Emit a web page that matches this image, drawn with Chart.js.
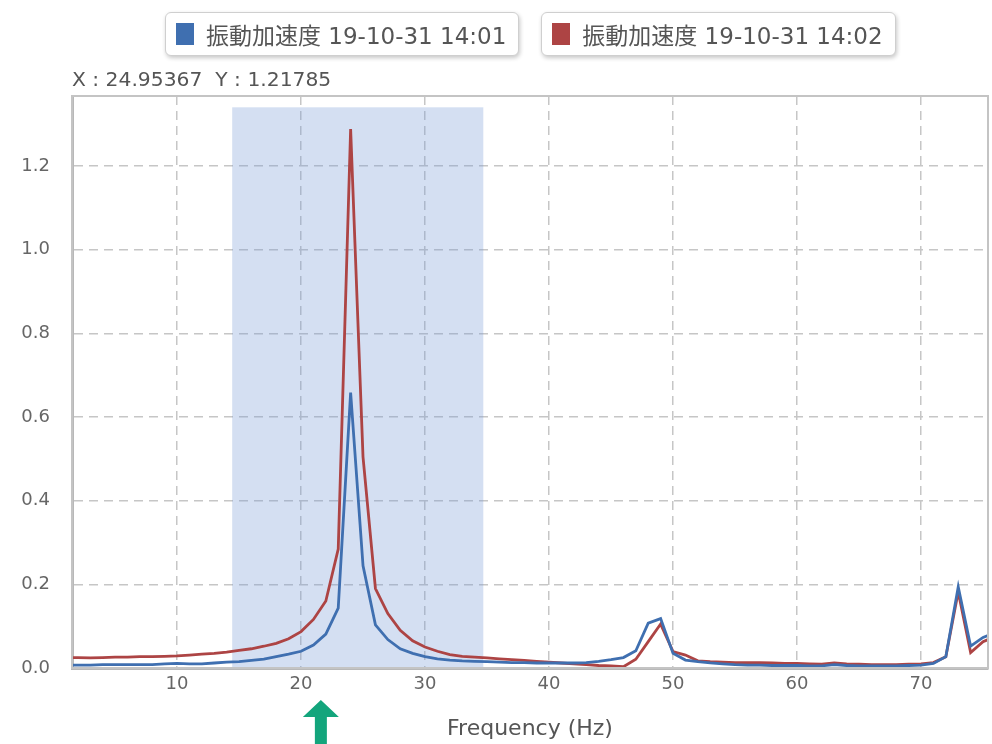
<!DOCTYPE html>
<html>
<head>
<meta charset="utf-8">
<script src="https://cdn.jsdelivr.net/npm/chart.js@4.4.1/dist/chart.umd.min.js"></script>
<style>
  html, body { margin: 0; padding: 0; background: #fff; }
  #wrap { position: relative; width: 992px; height: 744px; }
  #legend { position: absolute; top: 12px; left: 165px; display: flex; gap: 22px; }
  .lg-item {
    display: flex; align-items: center; height: 42px; padding: 0 12px 0 10px;
    border: 1px solid #cfcfcf; border-radius: 6px; background: #fff;
    box-shadow: 1px 2px 4px rgba(0,0,0,0.22);
    font: 23px "DejaVu Sans", "Noto Sans CJK JP", sans-serif; color: #555;
    white-space: nowrap;
  }
  .lg-sw { width: 18px; height: 22px; margin-right: 12px; }
  #cursor {
    position: absolute; left: 72px; top: 67px;
    font: 20.3px "DejaVu Sans", sans-serif; color: #555; white-space: pre;
  }
</style>
</head>
<body>
<div id="wrap">
  <canvas id="fft" width="992" height="744"></canvas>
  <div id="legend"></div>
  <div id="cursor">X : 24.95367  Y : 1.21785</div>
</div>
<script>
// ---------------- data ----------------
const freqs = [
  1, 2, 3, 4, 5, 6, 7, 8, 9, 10, 11, 12, 13, 14, 15, 16, 17, 18, 19, 20,
  21, 22, 23, 24, 25, 26, 27, 28, 29, 30, 31, 32, 33, 34, 35, 36, 37, 38, 39, 40,
  41, 42, 43, 44, 45, 46, 47, 48, 49, 50, 51, 52, 53, 54, 55, 56, 57, 58, 59, 60,
  61, 62, 63, 64, 65, 66, 67, 68, 69, 70, 71, 72, 73, 74, 75, 76
];

const accel1401 = [
  0.007, 0.007, 0.007, 0.008, 0.008, 0.008, 0.008, 0.008, 0.010, 0.011,
  0.010, 0.010, 0.012, 0.014, 0.015, 0.018, 0.021, 0.027, 0.033, 0.040,
  0.055, 0.081, 0.143, 0.658, 0.244, 0.103, 0.068, 0.046, 0.035, 0.027,
  0.022, 0.019, 0.017, 0.016, 0.015, 0.014, 0.013, 0.013, 0.012, 0.012,
  0.012, 0.012, 0.013, 0.016, 0.020, 0.025, 0.041, 0.107, 0.118, 0.035,
  0.019, 0.015, 0.012, 0.010, 0.008, 0.007, 0.007, 0.006, 0.006, 0.006,
  0.005, 0.005, 0.008, 0.006, 0.005, 0.005, 0.005, 0.005, 0.006, 0.007,
  0.011, 0.027, 0.194, 0.052, 0.073, 0.085
];

const accel1402 = [
  0.025, 0.025, 0.024, 0.025, 0.026, 0.026, 0.027, 0.027, 0.028, 0.029,
  0.031, 0.033, 0.035, 0.038, 0.042, 0.046, 0.052, 0.059, 0.070, 0.087,
  0.116, 0.160, 0.284, 1.288, 0.504, 0.190, 0.130, 0.090, 0.065, 0.050,
  0.040, 0.032, 0.028, 0.026, 0.024, 0.022, 0.020, 0.018, 0.016, 0.014,
  0.012, 0.010, 0.008, 0.006, 0.005, 0.003, 0.021, 0.063, 0.105, 0.039,
  0.031, 0.017, 0.015, 0.014, 0.013, 0.013, 0.013, 0.012, 0.011, 0.011,
  0.010, 0.009, 0.012, 0.010, 0.009, 0.008, 0.008, 0.008, 0.009, 0.010,
  0.013, 0.027, 0.182, 0.037, 0.063, 0.075
];

const seriesLabels = ['振動加速度 19-10-31 14:01', '振動加速度 19-10-31 14:02'];
const xTicks = [10, 20, 30, 40, 50, 60, 70];
const yTicks = [0, 0.2, 0.4, 0.6, 0.8, 1.0, 1.2];
const xRange = [1.53, 75.4];
const yRange = [0, 1.367];
const bandX = [14.45, 34.7];   // highlighted frequency window
const bandTop = 1.34;
const arrowAt = 21.6;          // marker under the axis

const FONT = '"DejaVu Sans", "Noto Sans CJK JP", sans-serif';

// ---------------- plugins ----------------
const bandPlugin = {
  id: 'band',
  beforeDatasetsDraw(chart) {
    const { ctx, scales: { x, y } } = chart;
    const x0 = x.getPixelForValue(bandX[0]);
    const x1 = x.getPixelForValue(bandX[1]);
    const y0 = y.getPixelForValue(bandTop);
    const y1 = y.getPixelForValue(0);
    ctx.save();
    ctx.fillStyle = 'rgba(120, 155, 215, 0.32)';
    ctx.fillRect(x0, y0, x1 - x0, y1 - y0);
    ctx.restore();
  }
};

const framePlugin = {
  id: 'frame',
  afterDraw(chart) {
    const { ctx, chartArea: a, scales: { x } } = chart;
    ctx.save();
    ctx.strokeStyle = '#c4c4c4';
    ctx.lineWidth = 2;
    ctx.strokeRect(a.left, a.top, a.right - a.left, a.bottom - a.top);

    // green arrow below the axis
    const cx = x.getPixelForValue(arrowAt);
    ctx.fillStyle = '#13a57c';
    ctx.beginPath();
    ctx.moveTo(cx, 700);
    ctx.lineTo(cx + 18, 717);
    ctx.lineTo(cx + 6, 717);
    ctx.lineTo(cx + 6, 744);
    ctx.lineTo(cx - 6, 744);
    ctx.lineTo(cx - 6, 717);
    ctx.lineTo(cx - 18, 717);
    ctx.closePath();
    ctx.fill();
    ctx.restore();
  }
};

// ---------------- chart ----------------
const colors = ['#3f6fb0', '#ad4444'];

const chart = new Chart(document.getElementById('fft'), {
  type: 'line',
  data: {
    datasets: [accel1401, accel1402].map((vals, i) => ({
      label: seriesLabels[i],
      data: freqs.map((f, k) => ({ x: f, y: vals[k] })),
      borderColor: colors[i],
      backgroundColor: colors[i],
      borderWidth: 2.8,
      pointRadius: 0,
      tension: 0
    }))
  },
  options: {
    responsive: false,
    animation: false,
    layout: { padding: { top: 96, right: 4, left: 0, bottom: 0 } },
    plugins: { legend: { display: false }, tooltip: { enabled: false } },
    scales: {
      x: {
        type: 'linear',
        min: xRange[0],
        max: xRange[1],
        afterBuildTicks: s => { s.ticks = xTicks.map(v => ({ value: v })); },
        afterFit: s => { s.height = 76; },
        ticks: { color: '#666', font: { family: FONT, size: 18 }, padding: 6, maxRotation: 0 },
        grid: { color: '#c6c6c6', lineWidth: 1.5, drawTicks: false },
        border: { color: '#b8b8b8', width: 3, dash: [9, 6] },
        title: {
          display: true, text: 'Frequency (Hz)', color: '#555',
          font: { family: FONT, size: 22 }, padding: { top: 8, bottom: 2 }
        }
      },
      y: {
        min: yRange[0],
        max: yRange[1],
        afterBuildTicks: s => { s.ticks = yTicks.map(v => ({ value: v })); },
        afterFit: s => { s.width = 72; },
        ticks: {
          color: '#666', font: { family: FONT, size: 18 }, padding: 22,
          callback: v => v.toFixed(1)
        },
        grid: { color: '#c6c6c6', lineWidth: 1.5, drawTicks: false },
        border: { color: '#b8b8b8', width: 3, dash: [9, 6] }
      }
    }
  },
  plugins: [bandPlugin, framePlugin]
});

// ---------------- html legend ----------------
const legendEl = document.getElementById('legend');
chart.data.datasets.forEach(ds => {
  const item = document.createElement('div');
  item.className = 'lg-item';
  item.innerHTML = `<span class="lg-sw" style="background:${ds.borderColor}"></span>${ds.label}`;
  legendEl.appendChild(item);
});
</script>
</body>
</html>
